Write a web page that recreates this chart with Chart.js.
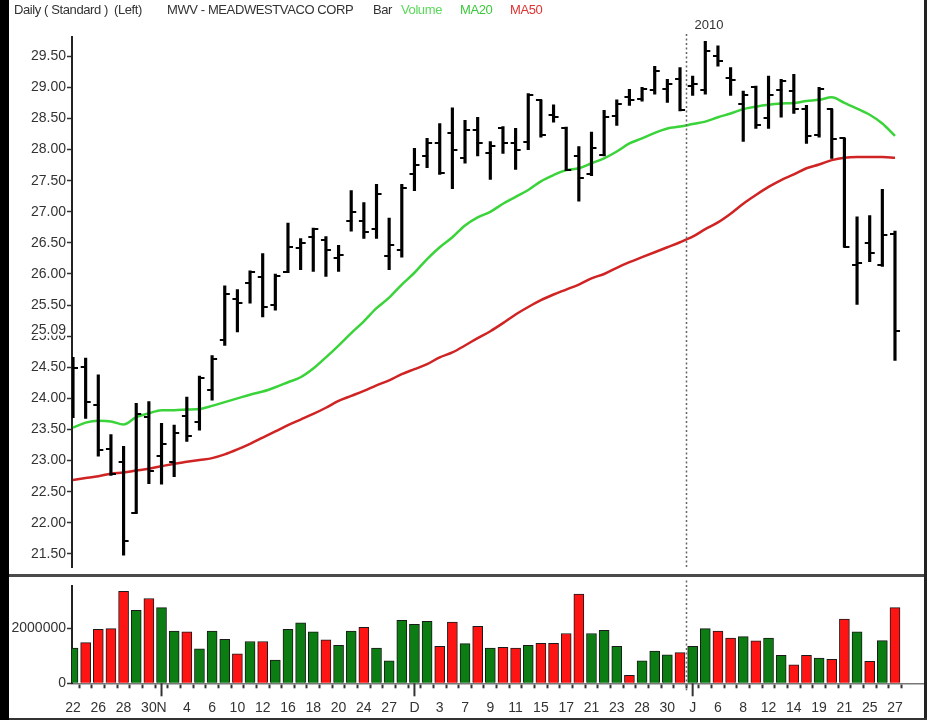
<!DOCTYPE html>
<html><head><meta charset="utf-8">
<script src="https://cdn.jsdelivr.net/npm/chart.js@4.4.1/dist/chart.umd.min.js"></script>
<style>
html,body{margin:0;padding:0;background:#fff;width:930px;height:720px;overflow:hidden;font-family:"Liberation Sans",Arial,sans-serif;}
#wrap{position:relative;width:930px;height:720px;}
.hdr{position:absolute;top:2px;font-size:13px;white-space:nowrap;color:#333;letter-spacing:-0.4px;}
#c1{position:absolute;left:0;top:0;}
#c2{position:absolute;left:0;top:577px;}
#leftbar{position:absolute;left:0;top:0;width:9px;height:720px;background:#000;}
#sep{position:absolute;left:9px;top:574px;width:917px;height:3px;background:#4a4a4a;}
#rb{position:absolute;left:924px;top:0;width:3px;height:720px;background:#222;}
#bb{position:absolute;left:9px;top:718px;width:918px;height:2px;background:#333;}
</style>
</head><body>
<div id="wrap">
<canvas id="c1" width="930" height="577"></canvas>
<canvas id="c2" width="930" height="143"></canvas>
<div class="hdr" style="left:14px">Daily ( Standard )</div>
<div class="hdr" style="left:114px">(Left)</div>
<div class="hdr" style="left:167px">MWV - MEADWESTVACO CORP</div>
<div class="hdr" style="left:373px">Bar</div>
<div class="hdr" style="left:401px;color:#5ad85a">Volume</div>
<div class="hdr" style="left:460px;color:#3cc83c">MA20</div>
<div class="hdr" style="left:510px;color:#dd3333">MA50</div>
<div id="sep"></div>
<div id="rb"></div>
<div id="bb"></div>
<div id="leftbar"></div>
</div>
<script>
// ---- data (Oct 22, 2009 .. Jan 27, 2010) ----
const labels = ['22','','26','','28','','30','N','','4','','6','','10','','12','','16','','18','','20','','24','','27','','D','','3','','7','','9','','11','','15','','17','','21','','23','','28','','30','','J','','6','','8','','12','','14','','19','','21','','25','','27'];
const yearLabel = '2010';
const opens  = [23.80,24.50,23.90,23.18,22.97,22.15,23.70,23.07,22.97,23.71,23.62,24.13,24.94,25.60,25.86,25.95,25.50,26.04,26.42,26.59,26.55,26.25,26.85,26.86,26.72,26.29,26.38,27.60,27.89,28.10,28.26,27.87,28.31,27.95,28.35,28.10,28.13,28.79,28.56,28.35,27.90,27.60,27.91,28.54,28.84,28.81,28.95,28.98,29.14,29.02,28.95,29.50,29.15,28.73,29.00,28.50,28.95,28.94,28.65,28.23,28.65,28.18,26.15,26.50,26.15,26.64];
const highs  = [24.66,24.65,24.38,23.42,23.23,23.92,23.95,23.60,23.57,24.02,24.36,24.69,25.81,25.75,26.05,26.33,26.00,26.82,26.57,26.74,26.60,26.46,27.34,27.15,27.44,26.90,27.44,28.02,28.18,28.42,28.67,28.47,28.52,28.13,28.37,28.34,28.90,28.80,28.72,28.36,28.05,28.28,28.63,28.80,28.97,29.00,29.34,29.13,29.32,29.18,29.74,29.67,29.32,28.94,29.02,29.18,29.13,29.21,28.71,29.00,28.65,28.18,26.92,26.94,27.36,26.69];
const lows   = [23.69,23.68,23.07,22.76,21.48,22.15,22.63,22.62,22.74,23.31,23.49,23.97,24.85,25.07,25.53,25.31,25.42,26.02,26.07,26.04,25.96,26.04,26.69,26.57,26.57,26.07,26.27,27.34,27.71,27.60,27.37,27.78,27.90,27.52,27.94,27.68,28.00,28.20,28.44,27.66,27.17,27.58,27.90,28.39,28.71,28.78,28.89,28.76,28.62,28.87,28.89,29.34,28.87,28.13,28.34,28.34,28.52,28.58,28.10,28.20,27.86,26.43,25.51,26.20,26.12,24.61];
const closes = [24.49,23.95,23.17,22.79,21.70,23.75,22.84,23.26,23.45,23.40,24.32,24.64,25.68,25.53,26.03,25.47,25.96,26.43,26.50,26.72,26.39,26.30,27.00,26.68,27.28,26.47,27.39,27.76,28.10,27.62,27.99,28.31,28.10,28.05,28.10,27.99,28.87,28.23,28.53,27.67,27.54,28.02,28.52,28.73,28.80,28.97,29.26,29.05,28.63,29.05,29.58,29.43,29.12,28.88,28.40,28.87,29.10,28.66,28.22,28.98,28.17,26.44,26.18,26.33,26.62,25.09];
const ma20   = [23.53,23.61,23.64,23.63,23.58,23.70,23.76,23.81,23.81,23.82,23.83,23.88,23.94,24.00,24.06,24.11,24.18,24.26,24.34,24.48,24.66,24.85,25.05,25.24,25.45,25.62,25.83,26.02,26.24,26.43,26.59,26.78,26.91,27.00,27.13,27.24,27.35,27.49,27.59,27.67,27.70,27.78,27.86,27.97,28.10,28.18,28.27,28.34,28.37,28.41,28.45,28.52,28.58,28.65,28.69,28.72,28.74,28.75,28.78,28.80,28.84,28.75,28.66,28.56,28.42,28.22];
const ma50   = [22.69,22.72,22.75,22.79,22.81,22.84,22.87,22.91,22.95,22.98,23.01,23.04,23.10,23.18,23.27,23.37,23.47,23.57,23.66,23.75,23.85,23.96,24.04,24.12,24.21,24.29,24.39,24.47,24.55,24.66,24.74,24.85,24.97,25.08,25.21,25.35,25.47,25.58,25.67,25.75,25.83,25.93,26.00,26.10,26.19,26.27,26.35,26.43,26.51,26.60,26.72,26.83,26.97,27.13,27.27,27.40,27.51,27.60,27.70,27.76,27.83,27.87,27.88,27.88,27.88,27.87];
const volumes = [1290000,1490000,1970000,2000000,3360000,2670000,3100000,2770000,1910000,1880000,1260000,1910000,1610000,1080000,1530000,1530000,850000,1970000,2210000,1880000,1590000,1390000,1910000,2050000,1290000,820000,2300000,2160000,2270000,1350000,2240000,1450000,2080000,1290000,1320000,1290000,1390000,1460000,1460000,1820000,3260000,1820000,1940000,1350000,290000,820000,1180000,1040000,1120000,1350000,2000000,1910000,1650000,1710000,1550000,1650000,1020000,680000,1020000,920000,880000,2350000,1880000,800000,1560000,2770000];
const priceTicks = [21.5,22,22.5,23,23.5,24,24.5,25,25.5,26,26.5,27,27.5,28,28.5,29,29.5];
const volumeTicks = [0,2000000];

// ---- helpers ----
const FONT = 'Liberation Sans';
const monthIdx = labels.map((l,i)=>/^[A-Z]$/.test(l)?i:-1).filter(i=>i>=0);
const yearBoundary = labels.indexOf('J') - 0.5;
const X_MIN = -0.079, X_MAX = 67.215;
function makeTick(side){
  const c=document.createElement('canvas'); c.width=12; c.height=2;
  const g=c.getContext('2d'); g.fillStyle='#000';
  if(side==='left') g.fillRect(1,0,6,2); else g.fillRect(5,0,6,2);
  return c;
}
const tickL = makeTick('left'), tickR = makeTick('right');
const up = closes.map((c,i)=>c>=opens[i]);

const dotted = (bottomExtra, withYear) => ({
  id:'yearline'+(withYear?'1':'2'),
  afterDatasetsDraw(chart){
    const ctx=chart.ctx, a=chart.chartArea;
    const x=Math.round(chart.scales.x.getPixelForValue(yearBoundary))+0.5;
    ctx.save(); ctx.strokeStyle='#666'; ctx.lineWidth=1.5; ctx.setLineDash([2,2.5]);
    ctx.beginPath(); ctx.moveTo(x, withYear? a.top-3 : a.top-6); ctx.lineTo(x, a.bottom+bottomExtra); ctx.stroke();
    ctx.restore();
    if(withYear){
      ctx.save(); ctx.fillStyle='#333'; ctx.font='13px '+FONT; ctx.textBaseline='middle'; ctx.textAlign='left';
      ctx.fillText(yearLabel, x+8, 25); ctx.restore();
    }
  }
});

const lastPrice = {
  id:'lastPrice',
  afterDraw(chart){
    const ctx=chart.ctx; const v=closes[closes.length-1];
    const y=chart.scales.y.getPixelForValue(v);
    ctx.save(); ctx.fillStyle='#fff'; ctx.fillRect(24,y-8,43,13);
    ctx.fillStyle='#333'; ctx.font='14px '+FONT; ctx.textAlign='right'; ctx.textBaseline='middle';
    ctx.fillText(v.toFixed(2), 66, y); ctx.restore();
  }
};

const monthTicks = {
  id:'monthTicks',
  afterDraw(chart){
    const ctx=chart.ctx, a=chart.chartArea, sx=chart.scales.x;
    ctx.save(); ctx.strokeStyle='#333'; ctx.lineWidth=2;
    monthIdx.forEach(i=>{const x=sx.getPixelForValue(i); ctx.beginPath(); ctx.moveTo(x,a.bottom); ctx.lineTo(x,a.bottom+13); ctx.stroke();});
    ctx.restore();
  }
};

// ---- price chart ----
new Chart(document.getElementById('c1'), {
  type:'bar',
  data:{datasets:[
    {type:'line', label:'MA50', data:ma50.map((v,i)=>({x:i,y:v})), borderColor:'#d02424', borderWidth:2.5, pointRadius:0, cubicInterpolationMode:'monotone', order:3},
    {type:'line', label:'MA20', data:ma20.map((v,i)=>({x:i,y:v})), borderColor:'#3ad43a', borderWidth:2.5, pointRadius:0, cubicInterpolationMode:'monotone', order:3},
    {type:'bar', label:'Range', data:highs.map((h,i)=>({x:i,y:[lows[i],h]})), backgroundColor:'#000', barThickness:2.5, grouped:false, order:2},
    {type:'line', label:'Open', data:opens.map((v,i)=>({x:i,y:v})), showLine:false, pointStyle:tickL, pointRadius:6, order:1},
    {type:'line', label:'Close', data:closes.map((v,i)=>({x:i,y:v})), showLine:false, pointStyle:tickR, pointRadius:6, order:1}
  ]},
  options:{
    responsive:false, animation:false, events:[],
    plugins:{legend:{display:false}, tooltip:{enabled:false}},
    layout:{padding:{top:37,right:7,bottom:2,left:0}},
    scales:{
      x:{type:'linear', min:X_MIN, max:X_MAX, offset:false, display:false},
      y:{min:21.28, max:29.81,
         afterFit:s=>{s.width=72;},
         afterBuildTicks:s=>{s.ticks=priceTicks.map(v=>({value:v}));},
         ticks:{callback:v=>Number(v).toFixed(2), font:{size:14,family:FONT}, color:'#333', padding:1},
         grid:{drawOnChartArea:false, tickLength:5, color:'#333', tickWidth:1.5},
         border:{color:'#222', width:2}}
    }
  },
  plugins:[dotted(0,true), lastPrice]
});

// ---- volume chart ----
new Chart(document.getElementById('c2'), {
  type:'bar',
  data:{datasets:[
    {label:'Volume', data:volumes.map((v,i)=>({x:i,y:v})), backgroundColor:up.map(u=>u?'#0b7d12':'#ff1414'), borderColor:'#1a1a1a', borderWidth:1, barThickness:10, grouped:false}
  ]},
  options:{
    responsive:false, animation:false, events:[],
    plugins:{legend:{display:false}, tooltip:{enabled:false}},
    layout:{padding:{top:6,right:7,bottom:0,left:0}},
    scales:{
      x:{type:'linear', min:X_MIN, max:X_MAX, offset:false,
         afterFit:s=>{s.height=36.7;},
         afterBuildTicks:s=>{s.ticks=labels.map((_,i)=>({value:i}));},
         ticks:{autoSkip:false, maxRotation:0, callback:v=>labels[v]||'', font:{size:14,family:FONT}, color:'#333', padding:11},
         grid:{drawOnChartArea:false, tickLength:5, color:'#333', tickWidth:2},
         border:{color:'#777', width:1.5}},
      y:{min:0, max:3544000,
         afterFit:s=>{s.width=72;},
         afterBuildTicks:s=>{s.ticks=volumeTicks.map(v=>({value:v}));},
         ticks:{callback:v=>String(v), font:{size:14,family:FONT}, color:'#333', padding:1},
         grid:{drawOnChartArea:false, tickLength:5, color:'#333', tickWidth:1.5},
         border:{color:'#222', width:2}}
    }
  },
  plugins:[dotted(7,false), monthTicks]
});
</script>
</body></html>
